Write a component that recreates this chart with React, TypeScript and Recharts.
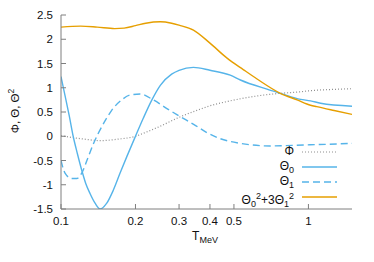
import React from 'react';
import { LineChart, Line, XAxis, YAxis } from 'recharts';

// ---- data (T in MeV) ----
const phiT = [0.1, 0.12, 0.145, 0.17, 0.2, 0.22, 0.25, 0.3, 0.366, 0.39, 0.483, 0.64, 0.77, 0.9, 1.02, 1.25, 1.5];
const phiV = [0.01, -0.05, -0.09, -0.06, 0.0, 0.08, 0.2, 0.39, 0.56, 0.61, 0.73, 0.84, 0.885, 0.91, 0.94, 0.965, 0.98];

const th0T = [0.1, 0.1047, 0.108, 0.112, 0.1165, 0.1213, 0.126, 0.131, 0.1373, 0.1438, 0.1531, 0.1628, 0.1733, 0.1845, 0.2, 0.215, 0.233, 0.252, 0.28, 0.3, 0.343, 0.4, 0.483, 0.531, 0.68, 0.77, 0.93, 1.02, 1.12, 1.5];
const th0V = [1.23, 0.75, 0.42, 0.0, -0.36, -0.7, -0.98, -1.18, -1.38, -1.5, -1.38, -1.11, -0.76, -0.42, 0.0, 0.37, 0.75, 1.05, 1.28, 1.36, 1.42, 1.36, 1.26, 1.16, 0.97, 0.885, 0.76, 0.73, 0.68, 0.62];

const th1T = [0.1, 0.1038, 0.1105, 0.1158, 0.1213, 0.129, 0.1351, 0.1405, 0.15, 0.16, 0.176, 0.19, 0.209, 0.236, 0.27, 0.3, 0.35, 0.39, 0.44, 0.53, 0.7, 0.957, 1.2, 1.5];
const th1V = [-0.5, -0.76, -0.87, -0.87, -0.76, -0.42, -0.16, 0.03, 0.3, 0.53, 0.75, 0.85, 0.87, 0.75, 0.56, 0.42, 0.22, 0.07, -0.05, -0.146, -0.2, -0.18, -0.165, -0.146];

const sumT = [0.1, 0.12, 0.14, 0.165, 0.18, 0.2, 0.22, 0.252, 0.28, 0.3, 0.343, 0.4, 0.469, 0.547, 0.62, 0.77, 0.9, 1.02, 1.08, 1.27, 1.5];
const sumV = [2.25, 2.27, 2.25, 2.22, 2.23, 2.28, 2.33, 2.36, 2.33, 2.29, 2.19, 1.92, 1.61, 1.37, 1.18, 0.885, 0.75, 0.64, 0.61, 0.53, 0.45];

const xTicks = [0.1, 0.2, 0.3, 0.4, 0.5, 1];
const topTicks = [0.2, 0.3, 0.4, 0.5, 1];
const yTicks = [-1.5, -1, -0.5, 0, 0.5, 1, 1.5, 2, 2.5];

const toPts = (xs: number[], ys: number[]) => xs.map((x, i) => ({ x, y: ys[i] }));
const phiData = toPts(phiT, phiV);
const th0Data = toPts(th0T, th0V);
const th1Data = toPts(th1T, th1V);
const sumData = toPts(sumT, sumV);

const FRAME = '#7f7f7f';
const BLUE = '#56b4e9';
const ORANGE = '#e69f00';
const GRAY = '#909090';
const FONT = '"Liberation Sans", Arial, Helvetica, sans-serif';
const TXT = '#111';

const BottomTick = (p: any) => (
  <g>
    <line x1={p.x} x2={p.x} y1={p.y} y2={p.y - 5} stroke={FRAME} />
    <text x={p.x} y={p.y + 16} textAnchor="middle" fontSize={11.5} fontFamily={FONT} fill={TXT}>
      {String(p.payload.value)}
    </text>
  </g>
);
const TopTick = (p: any) => (
  <line x1={p.x} x2={p.x} y1={p.y} y2={p.y + 5} stroke={FRAME} />
);
const LeftTick = (p: any) => (
  <g>
    <line x1={p.x} x2={p.x + 5} y1={p.y} y2={p.y} stroke={FRAME} />
    <text x={p.x - 8} y={p.y} dy="0.36em" textAnchor="end" fontSize={11.5} fontFamily={FONT} fill={TXT}>
      {String(p.payload.value)}
    </text>
  </g>
);
const RightTick = (p: any) => (
  <line x1={p.x} x2={p.x - 5} y1={p.y} y2={p.y} stroke={FRAME} />
);

const legendRows = [
  { label: <span>Φ</span>, color: GRAY, dash: '1 2', top: 152 },
  { label: <span>Θ<sub style={{ fontSize: 9 }}>0</sub></span>, color: BLUE, dash: undefined, top: 167 },
  { label: <span>Θ<sub style={{ fontSize: 9 }}>1</sub></span>, color: BLUE, dash: '7 4', top: 182 },
  {
    label: (
      <span>
        Θ<sub style={{ fontSize: 9 }}>0</sub><sup style={{ fontSize: 9 }}>2</sup>+3Θ<sub style={{ fontSize: 9 }}>1</sub><sup style={{ fontSize: 9 }}>2</sup>
      </span>
    ),
    color: ORANGE,
    dash: undefined,
    top: 197,
  },
];

export default function App() {
  return (
    <div style={{ position: 'absolute', left: 0, top: 0, width: 374, height: 262, fontFamily: FONT, color: TXT }}>
      <LineChart width={374} height={262} margin={{ top: 15, right: 22, bottom: 23, left: 0 }}>
        <XAxis
          xAxisId="b"
          dataKey="x"
          type="number"
          scale="log"
          domain={[0.1, 1.5]}
          allowDataOverflow
          ticks={xTicks}
          interval={0}
          height={30}
          tickSize={0}
          tickMargin={0}
          tickLine={false}
          axisLine={{ stroke: FRAME }}
          tick={<BottomTick />}
        />
        <XAxis
          xAxisId="t"
          orientation="top"
          dataKey="x"
          type="number"
          scale="log"
          domain={[0.1, 1.5]}
          allowDataOverflow
          ticks={topTicks}
          interval={0}
          height={0}
          tickSize={0}
          tickMargin={0}
          tickLine={false}
          axisLine={{ stroke: FRAME }}
          tick={<TopTick />}
        />
        <YAxis
          yAxisId="l"
          type="number"
          domain={[-1.5, 2.5]}
          allowDataOverflow
          ticks={yTicks}
          interval={0}
          width={61}
          tickSize={0}
          tickMargin={0}
          tickLine={false}
          axisLine={{ stroke: FRAME }}
          tick={<LeftTick />}
        />
        <YAxis
          yAxisId="r"
          orientation="right"
          type="number"
          domain={[-1.5, 2.5]}
          allowDataOverflow
          ticks={yTicks}
          interval={0}
          width={0}
          tickSize={0}
          tickMargin={0}
          tickLine={false}
          axisLine={{ stroke: FRAME }}
          tick={<RightTick />}
        />
        <Line xAxisId="b" yAxisId="l" data={phiData} dataKey="y" type="monotone" stroke={GRAY} strokeWidth={1.2} strokeDasharray="1 2" dot={false} isAnimationActive={false} />
        <Line xAxisId="b" yAxisId="l" data={th0Data} dataKey="y" type="monotone" stroke={BLUE} strokeWidth={1.4} dot={false} isAnimationActive={false} />
        <Line xAxisId="b" yAxisId="l" data={th1Data} dataKey="y" type="monotone" stroke={BLUE} strokeWidth={1.4} strokeDasharray="7 4" dot={false} isAnimationActive={false} />
        <Line xAxisId="b" yAxisId="l" data={sumData} dataKey="y" type="monotone" stroke={ORANGE} strokeWidth={1.4} dot={false} isAnimationActive={false} />
      </LineChart>

      {/* y-axis title */}
      <div
        style={{
          position: 'absolute',
          left: 13,
          top: 111,
          transform: 'translate(-50%, -50%) rotate(-90deg)',
          whiteSpace: 'nowrap',
          fontSize: 11.5,
          lineHeight: '14px',
        }}
      >
        Φ, Θ, Θ<sup style={{ fontSize: 8.5 }}>2</sup>
      </div>

      {/* x-axis title */}
      <div
        style={{
          position: 'absolute',
          left: 205,
          top: 229,
          transform: 'translateX(-50%)',
          whiteSpace: 'nowrap',
          fontSize: 12,
          lineHeight: '14px',
        }}
      >
        T<sub style={{ fontSize: 9 }}>MeV</sub>
      </div>

      {/* legend */}
      {legendRows.map((r, i) => (
        <div key={i}>
          <div
            style={{
              position: 'absolute',
              right: 374 - 294,
              top: r.top - 8,
              whiteSpace: 'nowrap',
              fontSize: 12,
              lineHeight: '14px',
              textAlign: 'right',
            }}
          >
            {r.label}
          </div>
          <svg style={{ position: 'absolute', left: 302, top: r.top - 3 }} width={36} height={6}>
            <line x1={0} x2={35} y1={3} y2={3} stroke={r.color} strokeWidth={r.dash === '1 2' ? 1.2 : 1.4} strokeDasharray={r.dash} />
          </svg>
        </div>
      ))}
    </div>
  );
}
